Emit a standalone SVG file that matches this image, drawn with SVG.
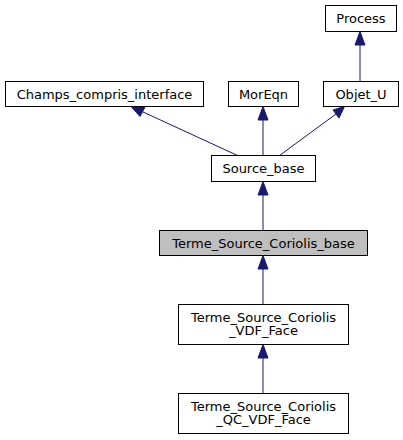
<svg xmlns="http://www.w3.org/2000/svg" width="403" height="440" viewBox="0 0 403 440">
<style>
.n rect{fill:#fff;stroke:#000;stroke-width:1}
.n.cur rect{fill:#bfbfbf}
.n text{font-family:"DejaVu Sans",sans-serif;font-size:13px;text-anchor:middle;fill:#000}
.e path{stroke:#191970;stroke-width:1;fill:none}
.e polygon{fill:#191970;stroke:#191970}
</style>
<rect width="403" height="440" fill="#fff"/>
<g id="edges" class="e">
<path d="M360,81.5V44"/><polygon points="355,45 360,31.5 365,45"/>
<path d="M237.5,155.5L142,111.5"/><polygon points="140,116.5 131,106.5 145,107"/>
<path d="M263,155.5V120"/><polygon points="258,120 263,106.5 268,120"/>
<path d="M279.5,155.5L336,114"/><polygon points="333,110 344.5,106.5 339,118"/>
<path d="M263,230.5V195"/><polygon points="258,195 263,181.5 268,195"/>
<path d="M263,304.5V269"/><polygon points="258,269 263,255.5 268,269"/>
<path d="M263,393.5V358"/><polygon points="258,358 263,344.5 268,358"/>
</g>
<g id="Process" class="n"><rect x="325.5" y="5.5" width="71" height="26"/><text x="361" y="23">Process</text></g>
<g id="Champs_compris_interface" class="n"><rect x="5.5" y="81.5" width="198" height="25"/><text x="104.5" y="98.5">Champs_compris_interface</text></g>
<g id="MorEqn" class="n"><rect x="228.5" y="81.5" width="70" height="25"/><text x="263.5" y="98.5">MorEqn</text></g>
<g id="Objet_U" class="n"><rect x="323.5" y="81.5" width="75" height="25"/><text x="361" y="98.5">Objet_U</text></g>
<g id="Source_base" class="n"><rect x="211.5" y="155.5" width="104" height="26"/><text x="263.5" y="173">Source_base</text></g>
<g id="Terme_Source_Coriolis_base" class="n cur"><rect x="159.5" y="230.5" width="208" height="25"/><text x="263.5" y="247.5">Terme_Source_Coriolis_base</text></g>
<g id="Terme_Source_Coriolis_VDF_Face" class="n"><rect x="178.5" y="304.5" width="170" height="40"/><text x="263.5" y="321.5">Terme_Source_Coriolis</text><text x="263.5" y="335">_VDF_Face</text></g>
<g id="Terme_Source_Coriolis_QC_VDF_Face" class="n"><rect x="178.5" y="393.5" width="170" height="40"/><text x="263.5" y="410.5">Terme_Source_Coriolis</text><text x="263.5" y="424">_QC_VDF_Face</text></g>
</svg>
